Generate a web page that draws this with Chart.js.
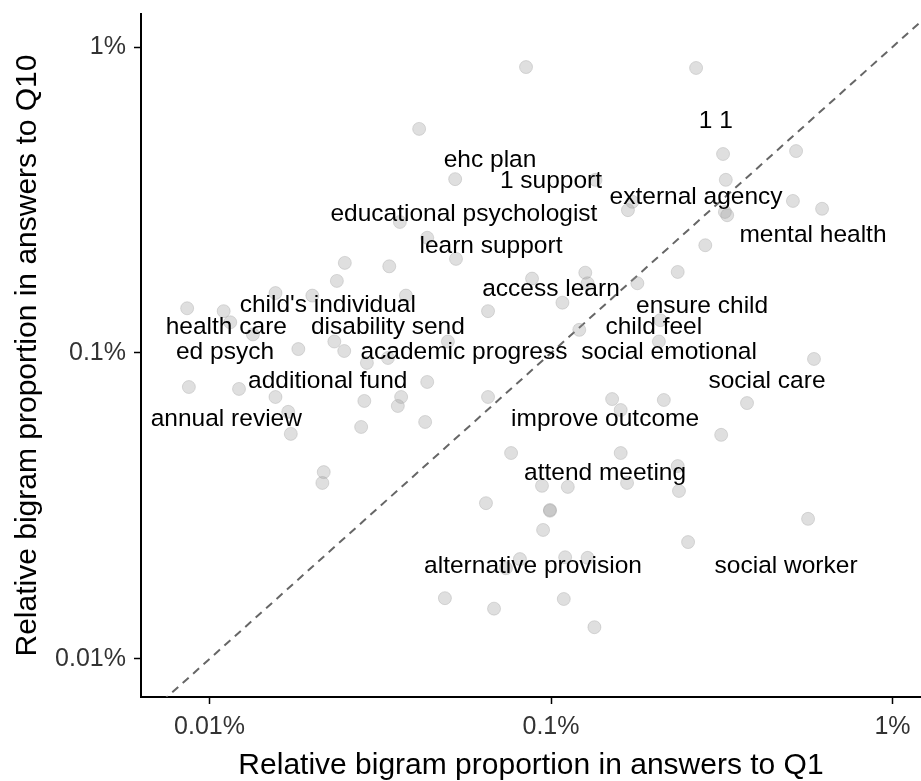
<!DOCTYPE html>
<html>
<head>
<meta charset="utf-8">
<script src="https://cdn.jsdelivr.net/npm/chart.js@4"></script>
<style>
  body { margin: 0; background: #fff; }
</style>
</head>
<body>
<canvas id="bigramChart" width="921" height="781"></canvas>
<script>
// relative bigram proportion (in %) in answers to Q1 and Q10
const q1Share = [
  0.0845, 0.266, 0.0411, 0.0524, 0.0361, 0.0434, 0.319, 0.522, 0.135, 0.325,
  0.168, 0.173, 0.511, 0.622, 0.328, 0.323, 0.283, 0.0249, 0.0336, 0.0527,
  0.0236, 0.0156, 0.020, 0.0376, 0.0086, 0.011, 0.0115, 0.0134, 0.0654, 0.088,
  0.126, 0.128, 0.235, 0.179, 0.108, 0.209, 0.121, 0.207, 0.589, 0.0182,
  0.0232, 0.0248, 0.0289, 0.0333, 0.0499, 0.0434, 0.0087, 0.0122, 0.0156, 0.0284,
  0.0364, 0.0356, 0.0654, 0.017, 0.0173, 0.0278, 0.0428, 0.151, 0.16, 0.214,
  0.375, 0.315, 0.0764, 0.16, 0.0216, 0.0214, 0.0645, 0.235, 0.0941, 0.112,
  0.167, 0.237, 0.0993, 0.0993, 0.0948, 0.566, 0.252, 0.0811, 0.0738, 0.11,
  0.128, 0.0489, 0.0681, 0.109, 0.134
];
const q10Share = [
  0.86, 0.854, 0.54, 0.37, 0.268, 0.238, 0.447, 0.457, 0.368, 0.368,
  0.293, 0.312, 0.314, 0.296, 0.282, 0.289, 0.225, 0.197, 0.192, 0.203,
  0.172, 0.157, 0.154, 0.154, 0.14, 0.137, 0.126, 0.115, 0.137, 0.175,
  0.183, 0.169, 0.184, 0.169, 0.146, 0.128, 0.119, 0.109, 0.0956, 0.103,
  0.109, 0.1015, 0.0928, 0.0963, 0.109, 0.0804, 0.0774, 0.0763, 0.0718, 0.0697,
  0.0718, 0.0671, 0.0718, 0.0642, 0.0544, 0.0573, 0.0595, 0.0707, 0.0651, 0.0702,
  0.0686, 0.054, 0.0471, 0.0471, 0.0408, 0.0376, 0.0323, 0.0427, 0.0368, 0.0365,
  0.0376, 0.0354, 0.0305, 0.0307, 0.0264, 0.0287, 0.0241, 0.0212, 0.0198, 0.0215,
  0.0214, 0.0158, 0.0146, 0.0157, 0.0127
];

// labelled bigrams
const labelTexts = [
  '1 1', 'ehc plan', '1 support', 'external agency', 'educational psychologist',
  'mental health', 'learn support', 'access learn', 'ensure child', "child's individual",
  'health care', 'disability send', 'child feel', 'ed psych', 'academic progress',
  'social emotional', 'additional fund', 'social care', 'annual review', 'improve outcome',
  'attend meeting', 'alternative provision', 'social worker'
];
const labelQ1 = [
  0.304, 0.0663, 0.1, 0.266, 0.0556,
  0.585, 0.0667, 0.1, 0.277, 0.0222,
  0.0112, 0.0333, 0.2, 0.0111, 0.0556,
  0.2216, 0.0222, 0.429, 0.0112, 0.144,
  0.144, 0.0886, 0.488
];
const labelQ10 = [
  0.573, 0.427, 0.365, 0.323, 0.2845,
  0.243, 0.2237, 0.162, 0.1424, 0.1435,
  0.1216, 0.1216, 0.1216, 0.1008, 0.1008,
  0.1008, 0.081, 0.081, 0.0609, 0.0609,
  0.0405, 0.0201, 0.0201
];

const tickValues = [0.01, 0.1, 1];
const xRange = [0.0063, 1.212];
const yRange = [0.00751, 1.282];

const FONT = '"Liberation Sans", Arial, sans-serif';

const bigramLabels = {
  id: 'bigramLabels',
  afterDatasetsDraw(chart) {
    const meta = chart.getDatasetMeta(2);
    const ctx = chart.ctx;
    ctx.save();
    ctx.font = '24.5px ' + FONT;
    ctx.fillStyle = '#000';
    ctx.textAlign = 'center';
    ctx.textBaseline = 'middle';
    meta.data.forEach((pt, i) => ctx.fillText(labelTexts[i], pt.x, pt.y));
    ctx.restore();
  }
};

function axisOptions(range, title, isX) {
  return {
    type: 'logarithmic',
    min: range[0],
    max: range[1],
    afterBuildTicks: scale => {
      scale.ticks = tickValues.map(v => ({ value: v }));
    },
    afterFit: scale => {
      if (isX) scale.height = 84;
      else scale.width = 141;
      // no extra room for the end labels, the panel fills the canvas
      scale.paddingTop = 0;
      scale.paddingBottom = 0;
      scale.paddingLeft = 0;
      scale.paddingRight = 0;
    },
    border: { display: true, color: '#000', width: 2 },
    grid: {
      display: true,
      drawOnChartArea: false,
      drawTicks: true,
      tickLength: 7,
      tickColor: '#000',
      tickWidth: 1.5
    },
    ticks: {
      autoSkip: false,
      maxRotation: 0,
      color: '#333',
      padding: 8,
      font: { family: FONT, size: 25 },
      callback: v => v + '%'
    },
    title: {
      display: true,
      text: title,
      color: '#000',
      font: { family: FONT, size: 30, lineHeight: 1 },
      padding: isX ? { top: 0, bottom: 0 } : { top: 13, bottom: 0 }
    }
  };
}

const ctx = document.getElementById('bigramChart').getContext('2d');
new Chart(ctx, {
  type: 'scatter',
  data: {
    datasets: [
      {
        type: 'line',
        data: [{ x: xRange[0], y: xRange[0] }, { x: xRange[1], y: xRange[1] }],
        borderColor: '#666',
        borderWidth: 2,
        borderDash: [8, 6],
        pointRadius: 0,
        fill: false,
        order: 3
      },
      {
        data: q1Share.map((v, i) => ({ x: v, y: q10Share[i] })),
        backgroundColor: 'rgba(150, 150, 150, 0.3)',
        borderColor: 'rgba(150, 150, 150, 0.3)',
        borderWidth: 1,
        pointRadius: 6.5,
        pointHoverRadius: 6.5,
        order: 2
      },
      {
        data: labelQ1.map((v, i) => ({ x: v, y: labelQ10[i] })),
        pointRadius: 0,
        pointHoverRadius: 0,
        order: 1
      }
    ]
  },
  options: {
    responsive: false,
    animation: false,
    layout: {
      autoPadding: false,
      padding: { top: 14, right: 0, bottom: 0, left: 0 }
    },
    plugins: {
      legend: { display: false },
      tooltip: { enabled: false }
    },
    scales: {
      x: axisOptions(xRange, 'Relative bigram proportion in answers to Q1', true),
      y: axisOptions(yRange, 'Relative bigram proportion in answers to Q10', false)
    }
  },
  plugins: [bigramLabels]
});
</script>
</body>
</html>
